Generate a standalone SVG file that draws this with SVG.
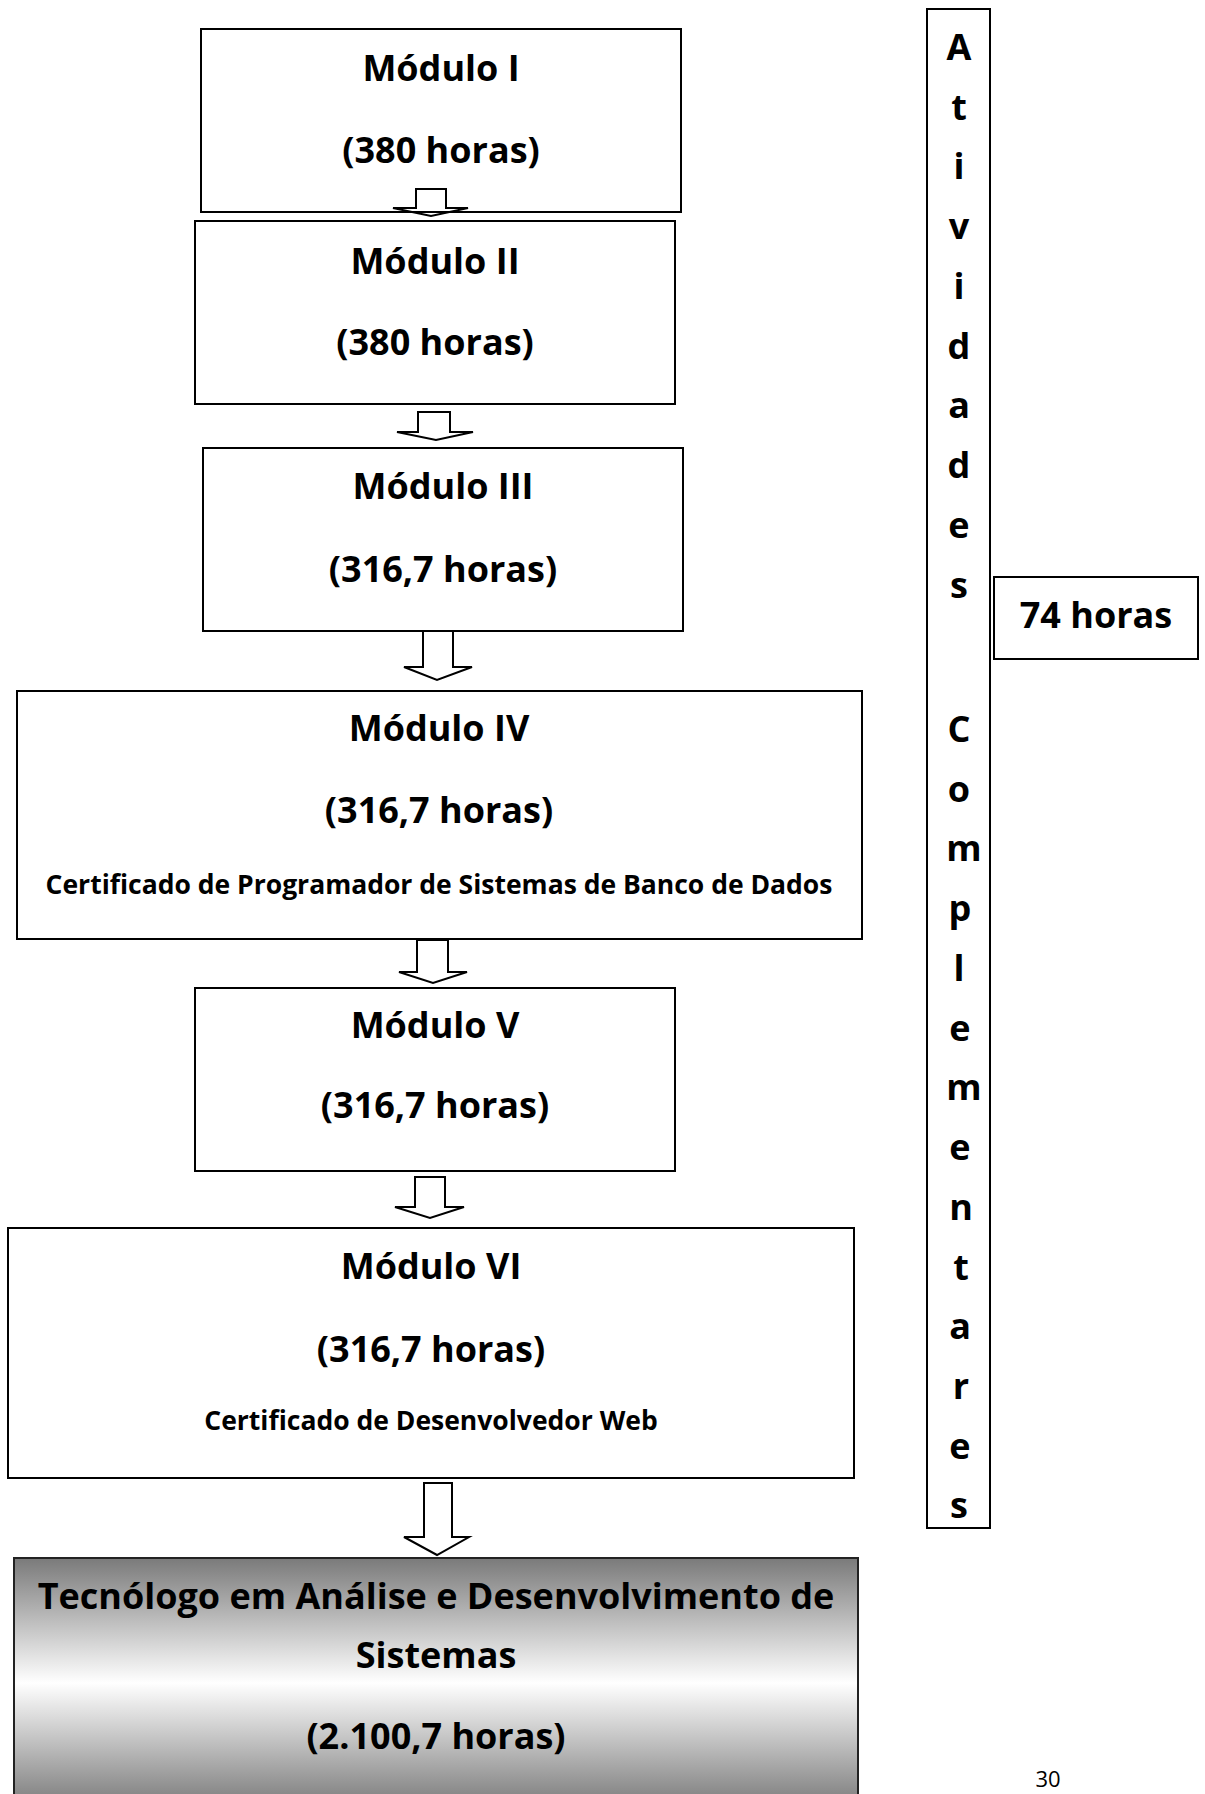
<svg xmlns="http://www.w3.org/2000/svg" width="1205" height="1794" viewBox="0 0 1205 1794">
  <defs>
    <linearGradient id="gradFinal" x1="0" y1="0" x2="0" y2="1">
      <stop offset="0" stop-color="#7a7a7a"/>
      <stop offset="0.5" stop-color="#ffffff"/>
      <stop offset="1" stop-color="#7a7a7a"/>
    </linearGradient>
    <style>
      .box { fill: #ffffff; stroke: #000000; stroke-width: 2; }
      .final { fill: url(#gradFinal); stroke: #222222; stroke-width: 2; }
      .arrow { fill: #ffffff; stroke: #000000; stroke-width: 2; stroke-linejoin: miter; }
      .arrow-open { fill: none; stroke: #000000; stroke-width: 2; }
      .t { font-family: "Open Sans", "Liberation Sans", sans-serif; font-weight: 700; font-size: 36px; fill: #000000; text-anchor: middle; }
      .s { font-family: "Open Sans", "Liberation Sans", sans-serif; font-weight: 700; font-size: 26.5px; fill: #000000; text-anchor: middle; }
      .pg { font-family: "Open Sans", "Liberation Sans", sans-serif; font-weight: 400; font-size: 22px; fill: #000000; text-anchor: middle; }
    </style>
  </defs>
  <rect x="0" y="0" width="1205" height="1794" fill="#ffffff"/>

  <g id="modulo1">
    <rect class="box" x="201" y="29" width="480" height="183"/>
    <text class="t" x="441" y="81">Módulo I</text>
    <text class="t" x="441" y="163">(380 horas)</text>
  </g>
  <g id="modulo2">
    <rect class="box" x="195" y="221" width="480" height="183"/>
    <text class="t" x="435" y="274">Módulo II</text>
    <text class="t" x="435" y="355">(380 horas)</text>
  </g>
  <g id="modulo3">
    <rect class="box" x="203" y="448" width="480" height="183"/>
    <text class="t" x="443" y="499">Módulo III</text>
    <text class="t" x="443" y="582">(316,7 horas)</text>
  </g>
  <g id="modulo4">
    <rect class="box" x="17" y="691" width="845" height="248"/>
    <text class="t" x="439" y="741">Módulo IV</text>
    <text class="t" x="439" y="823">(316,7 horas)</text>
    <text class="s" x="439" y="894">Certificado de Programador de Sistemas de Banco de Dados</text>
  </g>
  <g id="modulo5">
    <rect class="box" x="195" y="988" width="480" height="183"/>
    <text class="t" x="435" y="1038">Módulo V</text>
    <text class="t" x="435" y="1118">(316,7 horas)</text>
  </g>
  <g id="modulo6">
    <rect class="box" x="8" y="1228" width="846" height="250"/>
    <text class="t" x="431" y="1279">Módulo VI</text>
    <text class="t" x="431" y="1362">(316,7 horas)</text>
    <text class="s" x="431" y="1430">Certificado de Desenvolvedor Web</text>
  </g>
  <g id="tecnologo">
    <rect class="final" x="14" y="1558" width="844" height="250"/>
    <text class="t" x="436" y="1609">Tecnólogo em Análise e Desenvolvimento de</text>
    <text class="t" x="436" y="1668">Sistemas</text>
    <text class="t" x="436" y="1749">(2.100,7 horas)</text>
  </g>

  <g id="atividades">
    <rect class="box" x="927" y="9" width="63" height="1519"/>
    <text class="t" x="959" y="60">A</text>
    <text class="t" x="959" y="120">t</text>
    <text class="t" x="959" y="179">i</text>
    <text class="t" x="959" y="239">v</text>
    <text class="t" x="959" y="299">i</text>
    <text class="t" x="959" y="359">d</text>
    <text class="t" x="959" y="418">a</text>
    <text class="t" x="959" y="478">d</text>
    <text class="t" x="959" y="538">e</text>
    <text class="t" x="959" y="598">s</text>
    <text class="t" x="959" y="742">C</text>
    <text class="t" x="959" y="802">o</text>
    <text class="t" x="964" y="861">m</text>
    <text class="t" x="960" y="921">p</text>
    <text class="t" x="959" y="981">l</text>
    <text class="t" x="960" y="1041">e</text>
    <text class="t" x="964" y="1100">m</text>
    <text class="t" x="960" y="1160">e</text>
    <text class="t" x="961" y="1220">n</text>
    <text class="t" x="961" y="1280">t</text>
    <text class="t" x="960" y="1339">a</text>
    <text class="t" x="961" y="1399">r</text>
    <text class="t" x="960" y="1459">e</text>
    <text class="t" x="959" y="1518">s</text>
  </g>

  <g id="horas74">
    <rect class="box" x="994" y="577" width="204" height="82"/>
    <text class="t" x="1096" y="628">74 horas</text>
  </g>

  <g id="connectors">
    <path class="arrow-open" d="M416 189 L446 189 L446 208 L468 208 L431 216 L393 208 L416 208 Z"/>
    <path class="arrow" d="M418 412 L450 412 L450 432 L473 432 L436 440 L397 432 L418 432 Z"/>
    <path class="arrow" d="M423 631 L453 631 L453 667 L472 667 L437 680 L404 667 L423 667 Z"/>
    <path class="arrow" d="M417 940 L448 940 L448 972 L467 972 L433 983 L399 972 L417 972 Z"/>
    <path class="arrow" d="M415 1177 L445 1177 L445 1207 L464 1207 L430 1218 L395 1207 L415 1207 Z"/>
    <path class="arrow" d="M424 1483 L452 1483 L452 1537 L469 1537 L437 1555 L404 1537 L424 1537 Z"/>
  </g>

  <text class="pg" x="1048" y="1787">30</text>
</svg>
